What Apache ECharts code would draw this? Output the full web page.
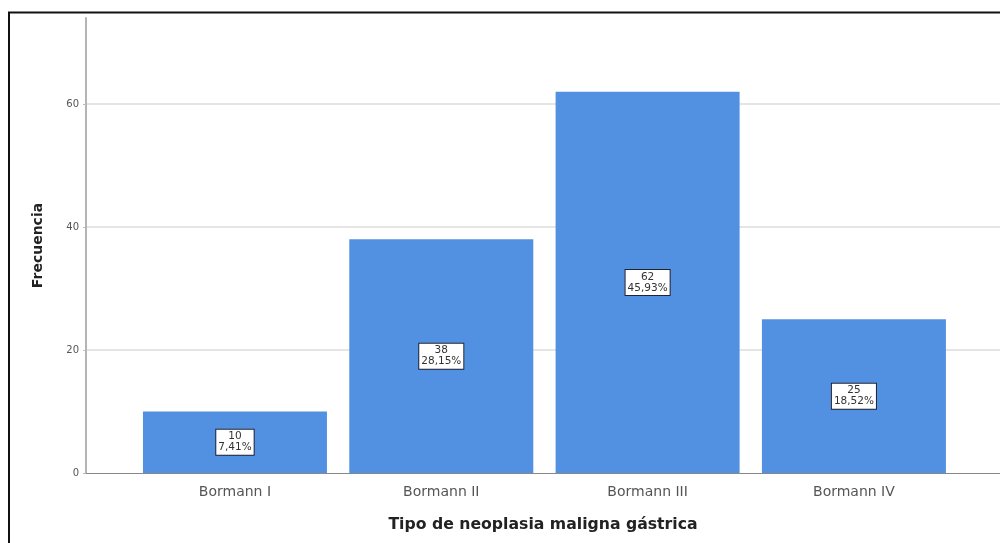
<!DOCTYPE html>
<html>
<head>
<meta charset="utf-8">
<script src="https://cdn.jsdelivr.net/npm/echarts@6/dist/echarts.min.js"></script>
<style>
  html, body { margin: 0; padding: 0; background: #fff; }
  #chart { width: 1000px; height: 543px; }
</style>
</head>
<body>
<div id="chart"></div>
<script>
const categories = ['Bormann I', 'Bormann II', 'Bormann III', 'Bormann IV'];
const counts = [10, 38, 62, 25];
const pctLabels = ['7,41%', '28,15%', '45,93%', '18,52%'];
const yTicks = [0, 20, 40, 60];

const chart = echarts.init(document.getElementById('chart'));
const catIndex = categories.map((c, i) => i);

chart.setOption({
  animation: false,
  textStyle: { fontFamily: 'DejaVu Sans, sans-serif' },
  graphic: [{
    type: 'rect',
    shape: { x: 9, y: 12.5, width: 1100, height: 700 },
    style: { fill: 'none', stroke: '#111', lineWidth: 2 },
    silent: true,
  }],
  grid: { left: 86, right: 0, top: 18, bottom: 70 },
  xAxis: {
    type: 'value',
    min: -0.722,
    max: 3.708,
    name: 'Tipo de neoplasia maligna gástrica',
    nameLocation: 'middle',
    nameGap: 44,
    nameTextStyle: { fontSize: 15.7, fontWeight: 'bold', color: '#222' },
    axisLine: { show: true, onZero: false, lineStyle: { color: '#888', width: 1 } },
    axisTick: { show: false },
    splitLine: { show: false },
    axisLabel: {
      customValues: catIndex,
      formatter: v => categories[v] || '',
      fontSize: 14,
      color: '#555',
      margin: 12,
    },
  },
  yAxis: {
    type: 'value',
    min: 0,
    max: 74,
    name: 'Frecuencia',
    nameLocation: 'middle',
    nameGap: 41,
    nameTextStyle: { fontSize: 14, fontWeight: 'bold', color: '#222' },
    axisLine: { show: true, onZero: false, lineStyle: { color: '#b4b4b4', width: 2 } },
    axisTick: { show: true, customValues: yTicks, length: 3, lineStyle: { color: '#bbb' } },
    axisLabel: { customValues: yTicks, fontSize: 10, color: '#555', margin: 7 },
    splitLine: { show: false },
  },
  series: [{
    type: 'bar',
    barWidth: 184,
    data: counts.map((v, i) => [i, v]),
    itemStyle: { color: '#5291e2' },
    label: {
      show: true,
      position: 'inside',
      formatter: p => counts[p.dataIndex] + '\n' + pctLabels[p.dataIndex],
      fontSize: 10.5,
      lineHeight: 11,
      color: '#333',
      backgroundColor: '#fff',
      borderColor: '#223',
      borderWidth: 1,
      padding: [2, 2, 1, 2],
    },
    markLine: {
      silent: true,
      symbol: 'none',
      label: { show: false },
      lineStyle: { color: '#dcdcdc', width: 1.5, type: 'solid' },
      data: yTicks.filter(t => t > 0).map(t => ({ yAxis: t })),
      z: 0,
    },
    z: 2,
  }],
});
</script>
</body>
</html>
